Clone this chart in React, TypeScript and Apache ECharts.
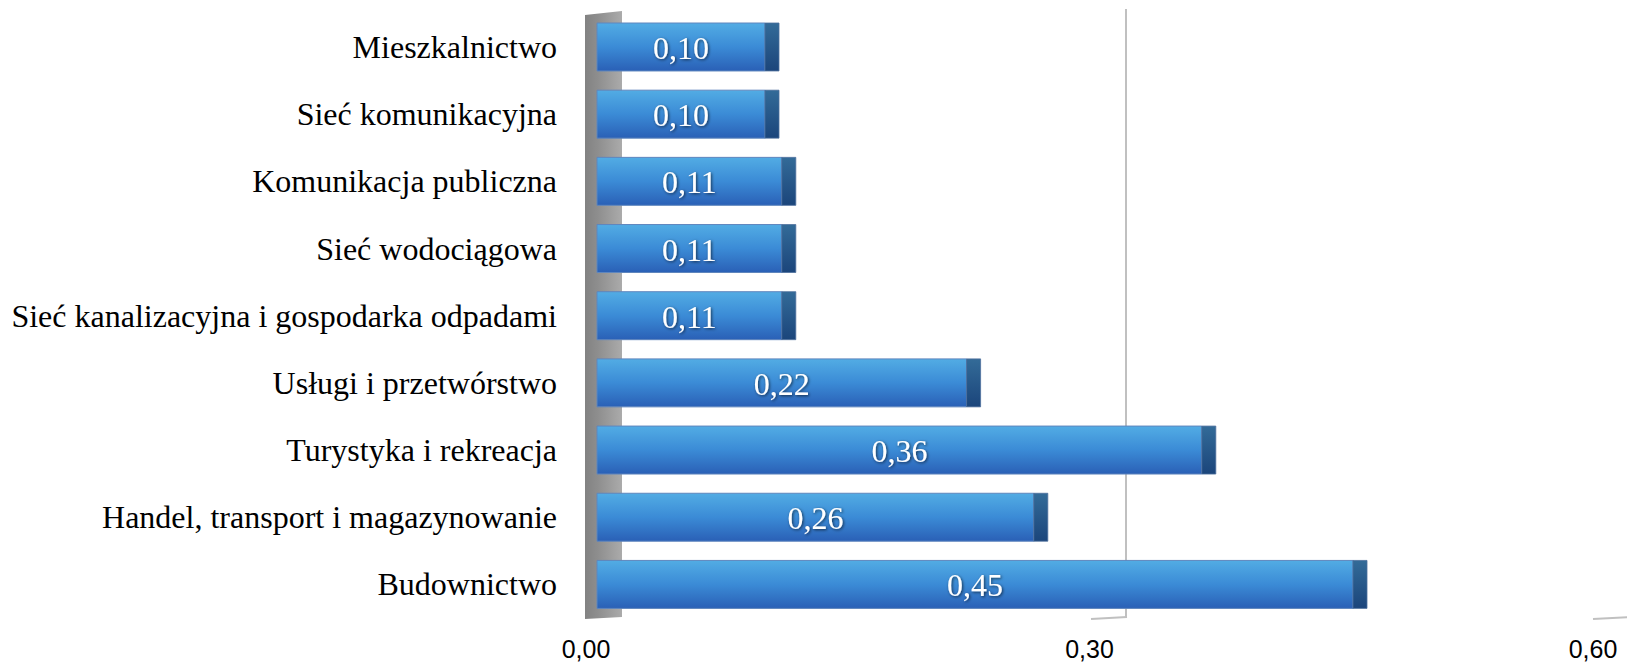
import React, { useEffect, useRef } from "react";
import * as echarts from "echarts";

const categories = [
  "Mieszkalnictwo",
  "Sieć komunikacyjna",
  "Komunikacja publiczna",
  "Sieć wodociągowa",
  "Sieć kanalizacyjna i gospodarka odpadami",
  "Usługi i przetwórstwo",
  "Turystyka i rekreacja",
  "Handel, transport i magazynowanie",
  "Budownictwo",
];
const values = [0.1, 0.1, 0.11, 0.11, 0.11, 0.22, 0.36, 0.26, 0.45];
const axisTicks = [0, 0.3, 0.6];

const fmt = (v: number) => v.toFixed(2).replace(".", ",");

export default function App() {
  const ref = useRef<HTMLDivElement>(null);
  useEffect(() => {
    if (!ref.current) return;
    const chart = echarts.init(ref.current, null, { renderer: "svg" });
    const serif = "'Liberation Serif', 'Times New Roman', serif";
    const sans = "'Liberation Sans', Arial, sans-serif";
    const frontGrad = new echarts.graphic.LinearGradient(0, 0, 0, 1, [
      { offset: 0, color: "#52ace4" },
      { offset: 0.5, color: "#3b8bd6" },
      { offset: 1, color: "#2a60b6" },
    ]);
    const sideGrad = new echarts.graphic.LinearGradient(0, 0, 0, 1, [
      { offset: 0, color: "#336b98" },
      { offset: 1, color: "#1b457b" },
    ]);
    const wallGrad = new echarts.graphic.LinearGradient(0, 0, 1, 0, [
      { offset: 0, color: "#828282" },
      { offset: 0.35, color: "#8e8e8e" },
      { offset: 1, color: "#ababab" },
    ]);
    chart.setOption({
      animation: false,
      grid: [
        { left: 597, width: 1008, top: 13.4, bottom: 47 },
        { left: 624, width: 1006, top: 9, bottom: 48 },
        { left: 586, width: 1007, top: 13.4, bottom: 46 },
      ],
      xAxis: [
        {
          gridIndex: 0,
          type: "value",
          min: 0,
          max: 0.6,
          interval: 0.3,
          axisLine: { show: false },
          axisTick: { show: false },
          axisLabel: { show: false },
          splitLine: { show: false },
        },
        {
          gridIndex: 1,
          type: "value",
          min: 0,
          max: 0.6,
          interval: 0.3,
          axisLine: { show: false },
          axisTick: { show: false },
          axisLabel: { show: false },
          splitLine: {
            show: true,
            lineStyle: { color: ["transparent", "#c0c0c0", "transparent"], width: 2 },
          },
        },
        {
          gridIndex: 2,
          type: "value",
          min: axisTicks[0],
          max: axisTicks[axisTicks.length - 1],
          interval: 0.3,
          axisLine: { show: false },
          axisTick: { show: false },
          splitLine: { show: false },
          axisLabel: {
            show: true,
            formatter: (v: number) => fmt(v),
            fontFamily: sans,
            fontSize: 25,
            color: "#000",
            margin: 30,
            verticalAlign: "middle",
            lineHeight: 25,
          },
        },
      ],
      yAxis: [
        {
          gridIndex: 0,
          type: "category",
          data: categories,
          inverse: true,
          axisLine: { show: false },
          axisTick: { show: false },
          splitLine: { show: false },
          axisLabel: {
            fontFamily: serif,
            fontSize: 32,
            color: "#000",
            margin: 40,
          },
        },
        {
          gridIndex: 1,
          type: "category",
          data: categories,
          show: false,
        },
        {
          gridIndex: 2,
          type: "category",
          data: categories,
          show: false,
        },
      ],
      graphic: [
        {
          type: "polygon",
          z: 0,
          shape: { points: [[585, 15], [622, 11], [622, 617], [585, 619]] },
          style: { fill: wallGrad },
        },
        {
          type: "line",
          z: 0,
          shape: { x1: 1127, y1: 617, x2: 1091, y2: 619 },
          style: { stroke: "#c0c0c0", lineWidth: 2 },
        },
        {
          type: "line",
          z: 0,
          shape: { x1: 1593, y1: 619, x2: 1630, y2: 617 },
          style: { stroke: "#c0c0c0", lineWidth: 2 },
        },
      ],
      series: [
        {
          type: "custom",
          xAxisIndex: 0,
          yAxisIndex: 0,
          z: 5,
          encode: { x: 0, y: 1 },
          data: values.map((v, i) => [v, i]),
          renderItem: (params: any, api: any) => {
            const v = api.value(0);
            const idx = api.value(1);
            const start = api.coord([0, idx]);
            const end = api.coord([v, idx]);
            const h = api.size([0, 1])[1] * 0.714;
            const y = start[1] - h / 2;
            const x0 = start[0];
            const x1 = end[0];
            const side = 14;
            return {
              type: "group",
              children: [
                {
                  type: "rect",
                  shape: { x: x0, y, width: x1 - x0, height: h },
                  style: { fill: frontGrad, stroke: "#5f86bd", lineWidth: 1 },
                },
                {
                  type: "polygon",
                  shape: {
                    points: [
                      [x1, y],
                      [x1 + side, y],
                      [x1 + side, y + h],
                      [x1, y + h],
                    ],
                  },
                  style: { fill: sideGrad, stroke: "#4d6f9c", lineWidth: 0.8 },
                },
                {
                  type: "text",
                  x: (x0 + x1) / 2,
                  y: start[1] + 1,
                  style: {
                    text: fmt(v),
                    fill: "#ffffff",
                    font: `32px ${serif}`,
                    align: "center",
                    verticalAlign: "middle",
                    textShadowColor: "rgba(0,0,0,0.65)",
                    textShadowBlur: 3,
                    textShadowOffsetX: 1,
                    textShadowOffsetY: 1,
                  },
                },
              ],
            };
          },
        },
      ],
    });
    return () => chart.dispose();
  }, []);
  return (
    <div
      ref={ref}
      style={{ position: "fixed", left: 0, top: 0, width: 1627, height: 665, background: "#fff" }}
    />
  );
}
